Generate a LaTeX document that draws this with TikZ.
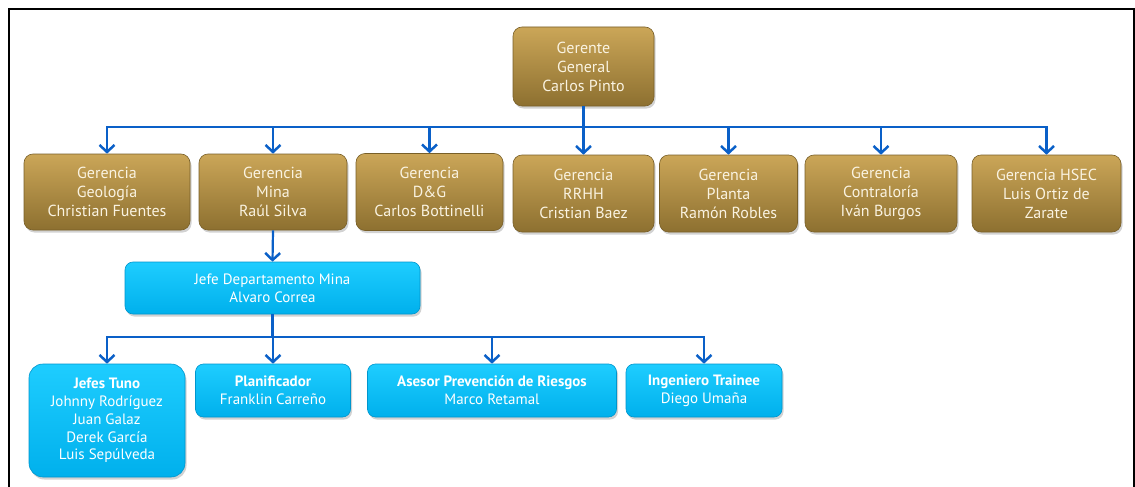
\documentclass[tikz,border=0pt]{standalone}
\usepackage{fontspec}
\setmainfont{PT Sans}
\usetikzlibrary{arrows.meta,shadows}

\definecolor{goldtop}{RGB}{203,166,88}
\definecolor{goldbot}{RGB}{141,112,48}
\definecolor{goldedge}{RGB}{120,95,40}
\definecolor{goldtext}{RGB}{250,243,225}
\definecolor{skytop}{RGB}{30,205,255}
\definecolor{skybot}{RGB}{0,176,236}
\definecolor{skyedge}{RGB}{0,150,205}
\definecolor{linkblue}{RGB}{10,96,200}

\tikzset{
  goldbox/.style={rectangle, rounded corners=9pt, draw=goldedge, line width=0.6pt,
    top color=goldtop, bottom color=goldbot, text=goldtext,
    drop shadow={opacity=0.35, shadow xshift=1.5pt, shadow yshift=-2.5pt},
    align=center, inner sep=2pt,
    font=\fontsize{16}{19}\selectfont},
  skybox/.style={rectangle, rounded corners=8pt, draw=skyedge, line width=0.6pt,
    top color=skytop, bottom color=skybot, text=white,
    drop shadow={opacity=0.35, shadow xshift=1.5pt, shadow yshift=-2.5pt},
    align=center, inner sep=2pt,
    font=\fontsize{15}{17.8}\selectfont},
  link/.style={draw=linkblue, line width=2.2pt,
    -{Straight Barb[length=7pt,width=15pt,line width=2.5pt]}},
  frameline/.style={draw=black, line width=2pt}
}

\begin{document}
\begin{tikzpicture}[x=1pt,y=-1pt]
\useasboundingbox (0,0) rectangle (1135,487);
\fill[white] (0,0) rectangle (1135,487);

% outer frame, open at the bottom
\draw[frameline] (9,488) -- (9,9) -- (1134,9) -- (1134,488);

% top management
\node[goldbox, minimum width=141pt, minimum height=79pt] (gg) at (583.5,66.5)
  {Gerente\\General\\Carlos Pinto};

% managers
\node[goldbox, minimum width=166pt, minimum height=76pt] (geo) at (107,192)
  {Gerencia\\Geología\\Christian Fuentes};
\node[goldbox, minimum width=148pt, minimum height=76pt] (mina) at (273,192)
  {Gerencia\\Mina\\Raúl Silva};
\node[goldbox, minimum width=147pt, minimum height=77pt] (dg) at (429.5,192)
  {Gerencia\\D\&G\\Carlos Bottinelli};
\node[goldbox, minimum width=141pt, minimum height=77pt] (rrhh) at (583.5,193.5)
  {Gerencia\\RRHH\\Cristian Baez};
\node[goldbox, minimum width=138pt, minimum height=77pt] (planta) at (728.5,193.5)
  {Gerencia\\Planta\\Ramón Robles};
\node[goldbox, minimum width=152pt, minimum height=77pt] (contra) at (881,193.5)
  {Gerencia\\Contraloría\\Iván Burgos};
\node[goldbox, minimum width=149pt, minimum height=77pt] (hsec) at (1046.5,193.5)
  {Gerencia HSEC\\Luis Ortiz de\\Zarate};

% mine department
\node[skybox, minimum width=295pt, minimum height=52pt] (jefe) at (272.5,288)
  {Jefe Departamento Mina\\Alvaro Correa};

\node[skybox, rounded corners=14pt, minimum width=156pt, minimum height=113pt] (tuno) at (107,420.5)
  {\textbf{Jefes Tuno}\\Johnny Rodríguez\\Juan Galaz\\Derek García\\Luis Sepúlveda};
\node[skybox, minimum width=155pt, minimum height=53pt] (plan) at (273,390.5)
  {\textbf{Planificador}\\Franklin Carreño};
\node[skybox, minimum width=249pt, minimum height=53pt] (asesor) at (492,390.5)
  {\textbf{Asesor Prevención de Riesgos}\\Marco Retamal};
\node[skybox, minimum width=156pt, minimum height=53pt] (ing) at (704,390.5)
  {\textbf{Ingeniero Trainee}\\Diego Umaña};

% reporting lines, first level
\draw[link] (gg.south) -- (rrhh.north);
\foreach \n in {geo,mina,dg,planta,contra,hsec}
  \draw[link] (gg.south) -- ++(0,21) -| (\n.north);

% reporting lines, mine department
\draw[link] (mina.south) -- (jefe.north);
\foreach \n in {tuno,plan,asesor,ing}
  \draw[link] (jefe.south) -- ++(0,23) -| (\n.north);
\end{tikzpicture}
\end{document}
